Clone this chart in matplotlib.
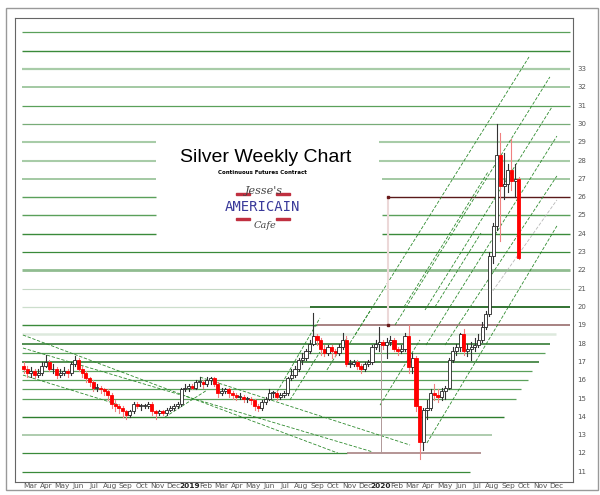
import matplotlib
matplotlib.use("Agg")
import matplotlib.pyplot as plt
from matplotlib.patches import Rectangle
import matplotlib.transforms as mtransforms

# ---- weekly candle data (x in months since 1 Mar 2018) ----
closes = [16.6,16.4,16.5,16.3, 16.4,16.8,17.0,16.6,16.6, 16.3,16.4,16.5,16.4,
          16.9,17.1,16.6,16.4,16.1, 15.9,15.6,15.6,15.5, 15.4,15.2,14.7,14.6,14.5,
          14.3,14.1,14.3,14.7, 14.6,14.6,14.6,14.7, 14.3,14.2,14.3,14.2,14.4,
          14.5,14.6,14.7,15.5, 15.6,15.7,15.6,15.9,15.9, 15.8,16.0,16.1,15.8,
          15.3,15.4,15.5,15.3, 15.2,15.1,15.1,15.0, 15.0,14.9,14.6,14.5,
          14.8,15.0,15.3,15.3,15.1, 15.2,15.3,16.1,16.3, 16.6,17.1,17.2,17.6,18.0,
          18.4,18.2,17.7,17.5, 17.8,17.6,17.5,17.8, 18.2,16.9,16.9,17.0,16.8,
          16.6,16.9,17.0,17.8, 18.0,18.1,17.9,18.1,18.2, 17.7,17.6,17.7,18.4,
          16.7,17.2,14.6,12.6, 14.4,14.5,15.3,15.2, 15.1,15.4,15.6,17.1,
          17.6,17.8,18.5,17.6, 17.7,17.8,17.9,18.2, 18.9,19.6,22.8,24.4,
          28.3,26.6,26.7,27.5, 26.9,27.0,22.7]
opens = [16.8] + closes[:-1]
highs = [17.0,16.8,16.7,16.6, 16.6,17.0,17.4,17.1,16.9, 16.7,16.6,16.7,16.6,
         17.0,17.3,17.2,16.8,16.5, 16.2,16.0,15.8,15.7, 15.6,15.5,15.3,14.9,14.7,
         14.6,14.4,14.4,14.8, 14.8,14.7,14.7,14.8, 14.8,14.4,14.4,14.4,14.5,
         14.6,14.7,14.8,15.6, 15.8,15.8,15.8,16.0,16.2, 16.0,16.2,16.2,16.2,
         15.9,15.6,15.6,15.6, 15.4,15.3,15.3,15.2, 15.1,15.1,15.0,14.7,
         14.9,15.1,15.5,15.4,15.4, 15.3,15.4,16.2,16.6, 16.8,17.2,17.5,17.7,18.2,
         19.7,18.5,18.3,17.9, 17.9,17.9,17.7,18.0, 18.6,18.4,17.1,17.1,17.1,
         16.9,17.0,17.1,17.9, 18.2,18.9,18.2,18.3,18.4, 18.3,17.8,17.9,18.6,
         19.0,17.5,17.3,14.6, 14.5,14.9,15.5,15.8, 15.5,15.6,15.7,17.2,
         17.8,18.0,18.6,18.8, 18.0,18.1,18.3,18.5, 19.2,19.8,23.0,24.6,
         30.0,29.5,28.4,27.8, 29.2,27.8,27.1]
lows = [16.4,16.2,16.2,16.1, 16.2,16.3,16.7,16.5,16.4, 16.1,16.2,16.3,16.2,
        16.3,16.8,16.5,16.2,15.9, 15.7,15.4,15.4,15.3, 15.2,14.9,14.5,14.3,14.2,
        14.0,13.9,14.0,14.2, 14.5,14.4,14.5,14.5, 14.1,13.9,14.1,14.1,14.1,
        14.3,14.4,14.5,14.6, 15.4,15.4,15.5,15.5,15.7, 15.6,15.7,15.8,15.7,
        15.1,15.2,15.3,15.1, 15.0,14.9,15.0,14.8, 14.8,14.7,14.4,14.3,
        14.4,14.7,14.9,15.1,14.9, 15.0,15.1,15.2,16.0, 16.2,16.5,16.9,17.1,17.5,
        17.9,17.9,17.4,17.3, 17.4,17.2,17.3,17.4, 17.7,16.8,16.7,16.8,16.6,
        16.4,16.5,16.8,16.9, 17.7,17.6,17.7,17.2,17.9, 17.6,17.4,17.5,17.6,
        16.4,16.4,14.3,11.7, 12.2,13.9,14.4,14.9, 14.8,14.9,15.0,15.5,
        17.0,17.4,17.6,17.4, 17.3,17.1,17.6,17.8, 18.1,18.8,19.5,22.4,
        24.2,23.6,25.9,26.3, 26.4,26.0,22.6]
week_step = 7 / 30.44
first_week = 0.1

ticks_right = list(range(11, 34))
month_labels = ["Mar","Apr","May","Jun","Jul","Aug","Sep","Oct","Nov","Dec",
                "2019","Feb","Mar","Apr","May","Jun","Jul","Aug","Sep","Oct","Nov","Dec",
                "2020","Feb","Mar","Apr","May","Jun","Jul","Aug","Sep","Oct","Nov","Dec"]

DG, MG, LG, VL = "#257225", "#5aa05a", "#a8cca8", "#dde9dd"
MAR, PNK = "#a07878", "#ecd8d8"
# horizontal levels: (price, x0, x1, colour, width)
hlines = [(35,0,34.35,MG,0.9),(34,0,34.35,"#3a8a3a",1.0),(33,0,34.35,LG,1.6),
          (32,0,34.35,"#94c094",1.2),(31,0,34.35,MG,0.9),(30,0,34.35,"#78ac78",0.9),
          (29,0,8.4,LG,1.5),(29,22.4,34.35,LG,1.5),(28,0,8.4,LG,1.5),(28,22.4,34.35,LG,1.5),
          (27,0,8.4,"#94c094",1.2),(27,22.6,34.35,"#94c094",1.2),(26,0,8.4,MG,1.0),
          (26,22.95,34.35,"#5a1a1a",1.0),(25,0,8.4,MG,1.0),(25,22.6,34.35,MG,1.0),
          (24,0,8.4,"#3a8a3a",1.0),(24,22.6,34.35,"#3a8a3a",1.0),(23,0,34.35,"#3a8a3a",0.9),
          (22,0,34.35,"#90bc90",2.0),(21,0,34.35,"#c4d8c4",0.8),(20,0,18.06,"#ccdecc",0.9),
          (20,18.06,34.35,"#0f5a0f",1.2),(19,0,18.5,"#3a8a3a",1.0),(19,18.5,34.35,MAR,1.3),
          (18.5,0,33.5,VL,1.8),(18,0,33.1,DG,1.1),(17.5,0,32.8,MG,0.9),(17,0,32.4,DG,1.1),
          (16.5,0,32.0,MG,0.9),(16,0,31.7,MG,0.9),(15.5,0,31.3,MG,0.9),(15,0,31.0,MG,0.9),
          (14,0,30.2,"#2e7e2e",1.0),(13,0,29.5,"#a8c8a8",1.3),(12,0,20.4,"#3a8a3a",0.9),
          (12,20.4,28.8,MAR,1.1),(11,0,28.1,"#3a8a3a",0.9)]
# trend lines: (x0, p0, x1, p1, colour)
trend = [(20.88,18.47,31.79,33.66,"#2e8b2e"),(23.39,19.02,33.10,32.57,"#2e8b2e"),
         (25.27,19.84,33.23,30.93,"#2e8b2e"),(25.33,17.92,33.54,29.34,"#2e8b2e"),
         (26.52,17.92,33.54,27.16,"#2e8b2e"),(29.34,20.66,33.54,25.85,"#b8b8b8"),
         (25.39,12.57,33.54,24.43,"#2e8b2e"),(23.95,20.0,29.22,27.38,"#2e8b2e"),
         (25.89,20.0,28.78,24.04,"#2e8b2e"),(22.45,14.64,24.95,18.2,"#2e8b2e"),
         (15.99,15.36,18.68,19.4,"#2e8b2e"),(16.80,14.92,18.68,17.54,"#2e8b2e"),
         (19.12,16.56,20.38,18.31,"#2e8b2e"),(20.56,18.03,21.82,19.78,"#2e8b2e"),
         (8.97,13.99,11.6,15.46,"#2e8b2e"),
         (0.06,18.47,19.81,12.02,"#2e8b2e"),(11.16,16.17,24.33,12.46,"#2e8b2e"),
         (0.06,17.76,22.0,12.08,"#2e8b2e"),(0.06,16.28,6.14,14.64,"#2e8b2e")]

fig = plt.figure(figsize=(6, 4.95), dpi=100)
fig.patches.append(Rectangle((6/600, 5/495), 592/600, 482/495, transform=fig.transFigure,
                             fill=False, edgecolor="#999999", lw=1))
ax = fig.add_axes([15/600, 13/495, 558/600, 464/495])
ax.set_xlim(-0.44, 34.55)
ax.set_ylim(10.44, 35.79)
for s in ax.spines.values():
    s.set_color("#666666"); s.set_linewidth(0.8)
ax.set_xticks([]); ax.set_yticks([])

for p, x0, x1, c, w in hlines:
    ax.plot([x0, x1], [p, p], color=c, lw=w, solid_capstyle="butt", zorder=1)
for x0, p0, x1, p1, c in trend:
    ax.plot([x0, x1], [p0, p1], color=c, lw=0.6, ls=(0, (4, 2)), zorder=2)
ax.plot([22.95, 22.95], [19, 26], color=PNK, lw=1.5, zorder=2)
ax.plot([22.5, 22.5], [12, 18], color="#b09898", lw=0.7, zorder=2)
ax.plot([22.95, 22.95], [19, 26], ls="none", marker="s", ms=2, color="#6a1a1a", zorder=3)

w = 0.19
for i, (o, c, h, l) in enumerate(zip(opens, closes, highs, lows)):
    x = first_week + i * week_step
    up = c >= o
    wick = "#333333" if up else "#f08080"
    ax.plot([x, x], [l, h], color=wick, lw=0.8, zorder=4)
    lo, hi = min(o, c), max(o, c)
    ax.add_patch(Rectangle((x - w/2, lo), w, max(hi - lo, 0.04),
                           facecolor="white" if up else "#ff0000",
                           edgecolor="#222222" if up else "#ff0000", lw=0.6, zorder=5))

for t in ticks_right:
    ax.text(1.008, t, str(t), transform=ax.get_yaxis_transform(), fontsize=5,
            color="#555555", va="center", ha="left")
bt = mtransforms.blended_transform_factory(ax.transData, fig.transFigure)
for k, lab in enumerate(month_labels):
    bold = lab.isdigit()
    ax.text(k + 0.5, 9/495, lab, transform=bt, fontsize=5.3, ha="center", va="center",
            color="#222222" if bold else "#555555", fontweight="bold" if bold else "normal")

fig.text(266/600, 1-157/495, "Silver Weekly Chart", fontsize=14, family="Liberation Sans",
         ha="center", va="center")
fig.text(262/600, 1-173/495, "Continuous Futures Contract", fontsize=4, fontweight="bold",
         ha="center", va="center")
fig.text(264/600, 1-191/495, "Jesse's", fontsize=8, style="italic", family="DejaVu Serif",
         color="#444444", ha="center", va="center")
fig.text(262/600, 1-207/495, "AMERICAIN", fontsize=10, color="#3a3a9a", ha="center",
         va="center", family="DejaVu Sans Mono")
fig.text(265/600, 1-225/495, "Cafe", fontsize=7, style="italic", family="DejaVu Serif",
         color="#444444", ha="center", va="center")
for (x0, y0, ww) in [(236,195,14),(276,195,14),(236,220,14),(276,220,14)]:
    fig.patches.append(Rectangle((x0/600, 1-y0/495), ww/600, 2/495,
                                 transform=fig.transFigure, color="#c03040"))

fig.savefig("out.png", dpi=100)
